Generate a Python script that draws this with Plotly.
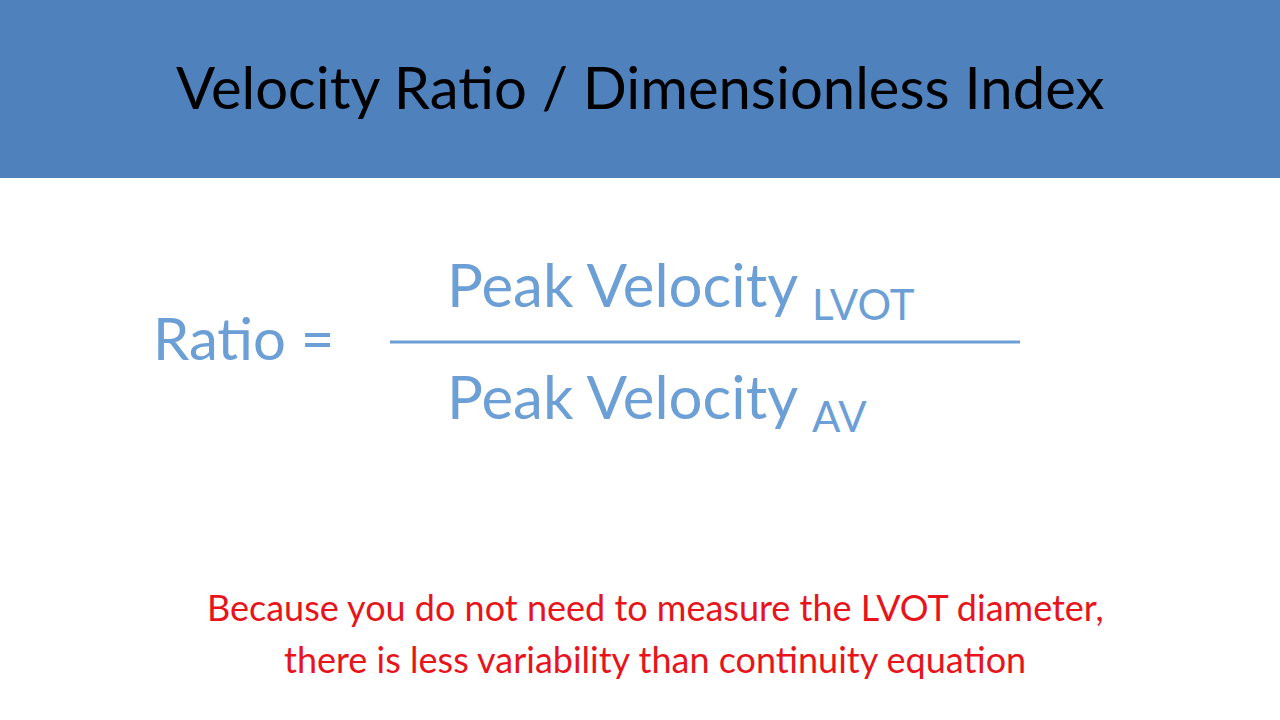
import plotly.graph_objects as go

title = "Velocity Ratio / Dimensionless Index"
lhs = "Ratio ="
numerator = ("Peak Velocity", "LVOT")
denominator = ("Peak Velocity", "AV")
note_lines = ["Because you do not need to measure the LVOT diameter,",
              "there is less variability than continuity equation"]

BLUE = "#6C9FD6"
FONT = "Lato, 'Open Sans', sans-serif"

fig = go.Figure()
fig.update_layout(
    width=1280, height=720, margin=dict(l=0, r=0, t=0, b=0),
    paper_bgcolor="white", plot_bgcolor="white", showlegend=False,
    xaxis=dict(range=[0, 1280], visible=False, fixedrange=True),
    yaxis=dict(range=[720, 0], visible=False, fixedrange=True),
)
fig.add_shape(type="rect", x0=0, x1=1280, y0=0, y1=178, fillcolor="#4F81BD", line_width=0, layer="below")
fig.add_shape(type="line", x0=390, x1=1020, y0=342, y1=342, line=dict(color=BLUE, width=3))

ann = []
ann.append(dict(x=640, y=86, text=title, font=dict(size=58, color="black", family=FONT)))
ann.append(dict(x=243, y=337, text=lhs, font=dict(size=58, color=BLUE, family=FONT)))
ann.append(dict(x=445, y=288, xanchor="left",
                text=f"{numerator[0]} <sub>{numerator[1]}</sub>",
                font=dict(size=60, color=BLUE, family=FONT)))
ann.append(dict(x=445, y=400, xanchor="left",
                text=f"{denominator[0]} <sub>{denominator[1]}</sub>",
                font=dict(size=60, color=BLUE, family=FONT)))
for i, line in enumerate(note_lines):
    ann.append(dict(x=655, y=607 + 52 * i, text=line, font=dict(size=36, color="#E8141B", family=FONT)))
for a in ann:
    a.update(xref="x", yref="y", showarrow=False, yanchor="middle")
    a.setdefault("xanchor", "center")
fig.update_layout(annotations=ann)
fig.write_html("out.html", config={"displayModeBar": False},
               post_script="document.body.style.margin='0';document.body.style.overflow='hidden';")
